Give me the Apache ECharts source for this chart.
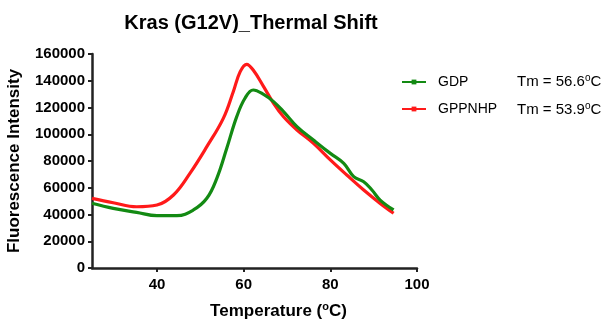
<!DOCTYPE html>
<html><head><meta charset="utf-8">
<script src="https://cdn.jsdelivr.net/npm/echarts@6/dist/echarts.min.js"></script>
<style>html,body{margin:0;padding:0;background:#fff}#c{width:605px;height:319px}</style>
</head><body><div id="c"></div>
<script>
const xTicks = [40, 60, 80, 100];
const gdpTemp = [25, 29.9, 35.3, 40, 44.6, 48.4, 51.5, 53.8, 56.1, 58.4, 60.3, 62.2, 64.6, 66.9, 69.2, 72.3, 76.1, 80, 83.1, 85.4, 87.7, 89.6, 91.5, 94.6];
const gdpVal = [48400, 44600, 41600, 39100, 39100, 43400, 52100, 67000, 89500, 113200, 126900, 133100, 129800, 124400, 116900, 105700, 95700, 85700, 78200, 68300, 64500, 58300, 50800, 43400];
const gppTemp = [25, 29.9, 35.3, 40, 43.8, 47.6, 51.5, 55.3, 57.6, 59.2, 60.7, 62.2, 64.6, 66.9, 69.2, 72.3, 76.1, 80, 83.8, 87.7, 91.5, 94.6];
const gppVal = [52100, 48800, 45800, 47100, 54600, 70800, 90700, 111900, 131800, 146800, 152300, 148000, 135600, 123100, 113100, 103200, 93200, 80800, 69500, 58300, 48300, 40900];
const names = ['GDP', 'GPPNHP'];
const tmLabels = ['56.6', '53.9'];

const font = 'Liberation Sans, Arial, sans-serif';
const chart = echarts.init(document.getElementById('c'));
chart.setOption({
  animation: false,
  title: {
    text: 'Kras (G12V)_Thermal Shift', left: 246, top: 8, textAlign: 'center',
    textStyle: {fontFamily: font, fontSize: 20, fontWeight: 'bold', color: '#000'}
  },
  grid: {left: 92, right: 188, top: 54, bottom: 51, outerBoundsMode: 'none', containLabel: false},
  legend: {
    orient: 'vertical', left: 401, top: 75, padding: 0, itemGap: 13, itemWidth: 24, itemHeight: 6,
    lineStyle: {width: 2},
    textStyle: {fontFamily: font, fontSize: 14, color: '#000', padding: [0, 0, 0, 7]},
    data: names
  },
  graphic: tmLabels.map((t, i) => ({
    type: 'text', left: 517, top: 73 + i * 28,
    style: {
      text: '{a|Tm = ' + t + '}{s|o}{a|C}',
      rich: {
        a: {fontFamily: font, fontSize: 15, fill: '#000'},
        s: {fontFamily: font, fontSize: 10, fill: '#000', verticalAlign: 'top', padding: [0, 0, 8, 0]}
      }
    }
  })),
  xAxis: {
    type: 'value', min: 25, max: 100,
    name: '{a|Temperature (}{s|o}{a|C)}', nameLocation: 'middle', nameGap: 33,
    nameTextStyle: {
      padding: [0, 0, 0, 48],
      rich: {
        a: {fontFamily: font, fontSize: 17, fontWeight: 'bold', color: '#000'},
        s: {fontFamily: font, fontSize: 11, fontWeight: 'bold', color: '#000', verticalAlign: 'top', padding: [0, 0, 9, 0]}
      }
    },
    axisLine: {onZero: false, lineStyle: {color: '#222', width: 2.5}},
    axisTick: {customValues: xTicks, length: 4, lineStyle: {color: '#222', width: 2}},
    axisLabel: {customValues: xTicks, fontFamily: font, fontSize: 15, fontWeight: 'bold', color: '#000', margin: 9},
    splitLine: {show: false}
  },
  yAxis: {
    type: 'value', min: 0, max: 160000, interval: 20000,
    name: 'Fluorescence Intensity', nameLocation: 'middle', nameGap: 69,
    nameTextStyle: {fontFamily: font, fontSize: 17, fontWeight: 'bold', color: '#000'},
    axisLine: {show: true, lineStyle: {color: '#222', width: 2.5}},
    axisTick: {show: true, length: 4, lineStyle: {color: '#222', width: 2}},
    axisLabel: {fontFamily: font, fontSize: 15, fontWeight: 'bold', color: '#000', margin: 7, formatter: v => String(v)},
    splitLine: {show: false}
  },
  series: [
    {name: names[0], type: 'line', smooth: 0.4, data: gdpTemp.map((t, i) => [t, gdpVal[i]]),
     symbol: 'rect', symbolSize: 4, showSymbol: false, color: '#138a13',
     lineStyle: {width: 3.2, color: '#138a13'}, z: 3},
    {name: names[1], type: 'line', smooth: 0.4, data: gppTemp.map((t, i) => [t, gppVal[i]]),
     symbol: 'rect', symbolSize: 4, showSymbol: false, color: '#ff1a1a',
     lineStyle: {width: 3.2, color: '#ff1a1a'}, z: 2}
  ]
});
</script></body></html>
